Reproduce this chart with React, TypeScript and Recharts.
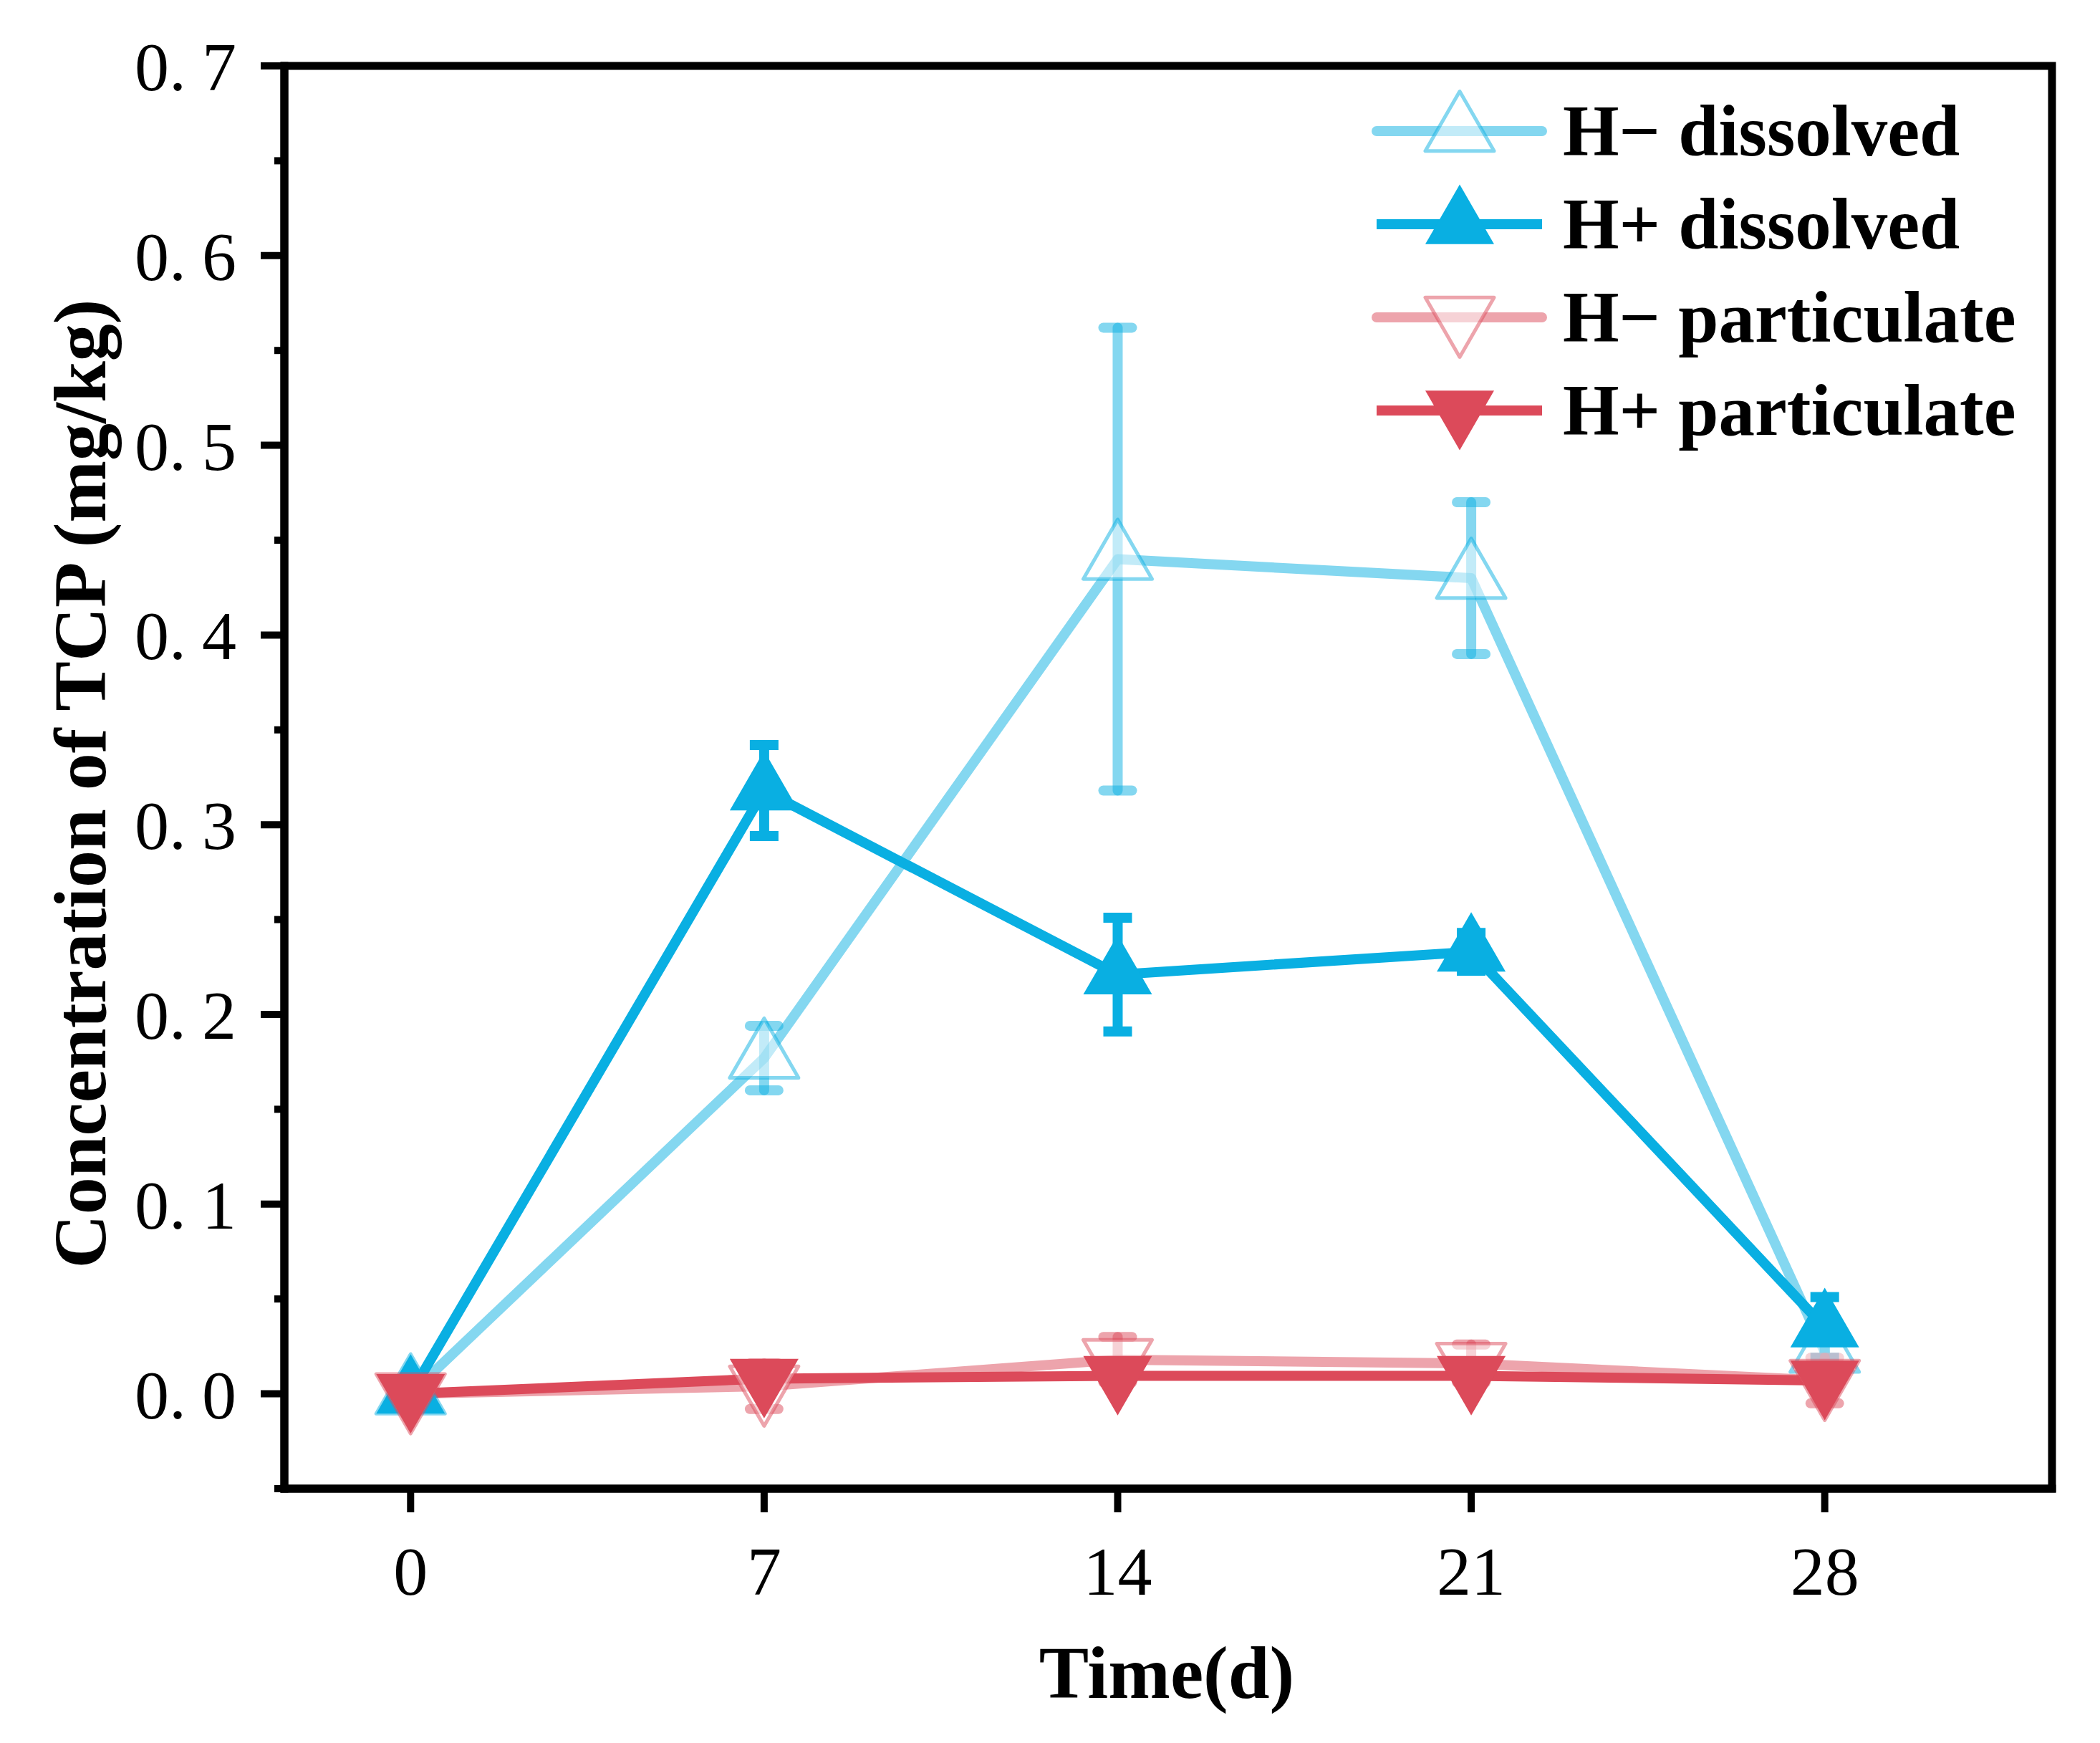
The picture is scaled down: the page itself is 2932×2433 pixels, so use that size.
import React from 'react';
import { LineChart, Line, XAxis, YAxis, ErrorBar, Legend, ReferenceArea } from 'recharts';

const days = [0, 7, 14, 21, 28];
const hMinusDissolved = [0, 0.177, 0.44, 0.43, 0.022];
const hMinusDissolvedErr = [0, 0.017, 0.122, 0.04, 0.008];
const hPlusDissolved = [0, 0.318, 0.221, 0.233, 0.035];
const hPlusDissolvedErr = [0, 0.024, 0.03, 0.01, 0.016];
const hMinusParticulate = [0, 0.004, 0.018, 0.016, 0.007];
const hMinusParticulateErr = [0, 0.012, 0.012, 0.01, 0.012];
const hPlusParticulate = [0, 0.008, 0.0095, 0.0095, 0.007];
const hPlusParticulateErr = [0, 0.003, 0.004, 0.003, 0.003];

const yMajorTicks = [0, 0.1, 0.2, 0.3, 0.4, 0.5, 0.6, 0.7];
const yMinorTicks = [-0.05, 0.05, 0.15, 0.25, 0.35, 0.45, 0.55, 0.65];

const data = days.map((d, i) => ({
  day: d,
  hmd: hMinusDissolved[i],
  hmdErr: hMinusDissolvedErr[i],
  hpd: hPlusDissolved[i],
  hpdErr: hPlusDissolvedErr[i],
  hmp: hMinusParticulate[i],
  hmpErr: hMinusParticulateErr[i],
  hpp: hPlusParticulate[i],
  hppErr: hPlusParticulateErr[i],
}));

const BLUE = '#09AFE2';
const LIGHT_BLUE = 'rgba(9,175,226,0.5)';
const RED = '#DC4A5A';
const LIGHT_RED = 'rgba(220,74,90,0.5)';
const FONT = "'Times New Roman', 'Liberation Serif', serif";

const X_DOMAIN = [-2.5, 32.5];
const Y_DOMAIN = [-0.05, 0.7];

const SIDE = 96;
const TH = SIDE * 0.866;

function triPoints(cx: number, cy: number, up: boolean) {
  const s = SIDE / 2;
  if (up) {
    return `${cx},${cy - (2 * TH) / 3} ${cx - s},${cy + TH / 3} ${cx + s},${cy + TH / 3}`;
  }
  return `${cx},${cy + (2 * TH) / 3} ${cx - s},${cy - TH / 3} ${cx + s},${cy - TH / 3}`;
}

function Marker({ cx, cy, up, open, color }: any) {
  if (cx == null || cy == null) return null;
  return (
    <polygon
      points={triPoints(cx, cy, up)}
      fill={open ? 'rgba(255,255,255,0.5)' : color}
      stroke={open ? color : 'none'}
      strokeWidth={open ? 5 : 0}
      strokeLinejoin="round"
    />
  );
}

const makeDot = (up: boolean, open: boolean, color: string) => (p: any) => (
  <Marker key={`dot-${p.index}`} cx={p.cx} cy={p.cy} up={up} open={open} color={color} />
);

function YTick({ x, y, payload }: any) {
  const v = payload.value;
  const major = yMajorTicks.includes(v);
  const parts = v.toFixed(1).split('.');
  return (
    <g>
      <line x1={x} x2={x - (major ? 33 : 14)} y1={y} y2={y} stroke="#000" strokeWidth={10} />
      {major && (
        <text x={x - 67} y={y + 34} textAnchor="end" fontFamily={FONT} fontSize={96} fill="#000">
          {parts[0]}.<tspan dx={22}>{parts[1]}</tspan>
        </text>
      )}
    </g>
  );
}

const legendItems = [
  { label: 'H\u2212 dissolved', color: LIGHT_BLUE, up: true, open: true, round: true },
  { label: 'H+ dissolved', color: BLUE, up: true, open: false, round: false },
  { label: 'H\u2212 particulate', color: LIGHT_RED, up: false, open: true, round: true },
  { label: 'H+ particulate', color: RED, up: false, open: false, round: false },
];

function LegendContent() {
  return (
    <svg width={1000} height={560}>
      {legendItems.map((it, i) => {
        const y = 83 + 130 * i;
        return (
          <g key={it.label}>
            <line
              x1={22}
              x2={253}
              y1={y}
              y2={y}
              stroke={it.color}
              strokeWidth={14}
              strokeLinecap={it.round ? 'round' : 'butt'}
            />
            <Marker cx={138} cy={y} up={it.up} open={it.open} color={it.color} />
            <text x={282} y={y + 34} fontFamily={FONT} fontWeight="bold" fontSize={101} fill="#000">
              {it.label}
            </text>
          </g>
        );
      })}
    </svg>
  );
}

function XTitle({ viewBox }: any) {
  return (
    <text
      x={viewBox.x + viewBox.width / 2 - 2}
      y={viewBox.y + 292}
      textAnchor="middle"
      fontFamily={FONT}
      fontWeight="bold"
      fontSize={104}
      fill="#000"
    >
      Time(d)
    </text>
  );
}

function YTitle({ viewBox }: any) {
  const x = viewBox.x - 50;
  const y = viewBox.y + viewBox.height / 2 + 9;
  return (
    <text
      x={x}
      y={y}
      transform={`rotate(-90 ${x} ${y})`}
      textAnchor="middle"
      fontFamily={FONT}
      fontWeight="bold"
      fontSize={104}
      fill="#000"
    >
      Concentration of TCP (mg/kg)
    </text>
  );
}

const axisLine = { stroke: '#000', strokeWidth: 11, strokeLinecap: 'square' as const };

export default function App() {
  return (
    <div style={{ position: 'absolute', left: 0, top: 0, background: '#fff' }}>
      <LineChart
        width={2932}
        height={2433}
        data={data}
        margin={{ top: 92, right: 67, bottom: 155, left: 197 }}
      >
        <XAxis
          dataKey="day"
          type="number"
          domain={X_DOMAIN}
          ticks={days}
          allowDataOverflow
          height={200}
          axisLine={axisLine}
          tickLine={{ stroke: '#000', strokeWidth: 10 }}
          tickSize={33}
          tickMargin={47}
          tick={{ fontFamily: FONT, fontSize: 96, fill: '#000' }}
          label={<XTitle />}
        />
        <YAxis
          type="number"
          domain={Y_DOMAIN}
          ticks={[...yMinorTicks, ...yMajorTicks].sort((a, b) => a - b)}
          allowDataOverflow
          width={200}
          axisLine={axisLine}
          tickLine={false}
          tickSize={0}
          tickMargin={0}
          tick={<YTick />}
          label={<YTitle />}
        />
        <ReferenceArea
          x1={X_DOMAIN[0]}
          x2={X_DOMAIN[1]}
          y1={Y_DOMAIN[0]}
          y2={Y_DOMAIN[1]}
          fill="none"
          fillOpacity={0}
          stroke="#000"
          strokeWidth={11}
          ifOverflow="visible"
        />
        <Legend
          layout="vertical"
          align="center"
          verticalAlign="middle"
          content={<LegendContent />}
          wrapperStyle={{ left: 1900, top: 100, width: 1000, height: 560 }}
        />
        <Line
          dataKey="hmd"
          name="H\u2212 dissolved"
          stroke={LIGHT_BLUE}
          strokeWidth={14}
          strokeLinecap="round"
          strokeLinejoin="round"
          dot={makeDot(true, true, LIGHT_BLUE)}
          activeDot={false}
          isAnimationActive={false}
        >
          <ErrorBar dataKey="hmdErr" direction="y" width={20} stroke={LIGHT_BLUE} strokeWidth={14} strokeLinecap="round" />
        </Line>
        <Line
          dataKey="hpd"
          name="H+ dissolved"
          stroke={BLUE}
          strokeWidth={14}
          dot={makeDot(true, false, BLUE)}
          activeDot={false}
          isAnimationActive={false}
        >
          <ErrorBar dataKey="hpdErr" direction="y" width={20} stroke={BLUE} strokeWidth={14} />
        </Line>
        <Line
          dataKey="hmp"
          name="H\u2212 particulate"
          stroke={LIGHT_RED}
          strokeWidth={14}
          strokeLinecap="round"
          strokeLinejoin="round"
          dot={makeDot(false, true, LIGHT_RED)}
          activeDot={false}
          isAnimationActive={false}
        >
          <ErrorBar dataKey="hmpErr" direction="y" width={20} stroke={LIGHT_RED} strokeWidth={14} strokeLinecap="round" />
        </Line>
        <Line
          dataKey="hpp"
          name="H+ particulate"
          stroke={RED}
          strokeWidth={14}
          dot={makeDot(false, false, RED)}
          activeDot={false}
          isAnimationActive={false}
        >
          <ErrorBar dataKey="hppErr" direction="y" width={20} stroke={RED} strokeWidth={14} />
        </Line>
      </LineChart>
    </div>
  );
}
